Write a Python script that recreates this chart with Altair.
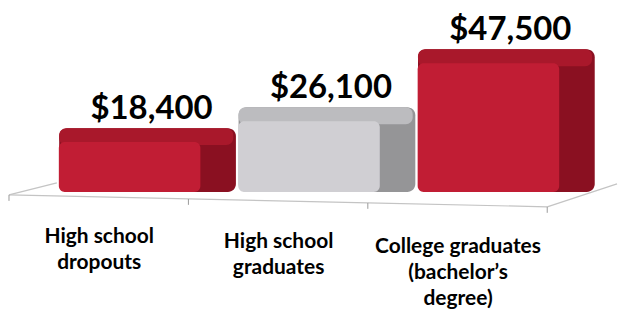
import altair as alt
import pandas as pd

# ---- data ----
categories = [
    "High school|dropouts",
    "High school|graduates",
    "College graduates|(bachelor’s|degree)",
]
earnings = [18400, 26100, 47500]

df = pd.DataFrame({"category": categories, "earnings": earnings})

# ---- layout (pixels -> scale units) ----
W, H = 610, 293
STEP = 180.0                  # px per category slot
X0 = 50.0                     # px from plot left to first slot
BASE = 184.0                  # px from plot top to $0
TOPV = 55.0                   # px from plot top to max value
K = (BASE - TOPV) / max(earnings)   # px per dollar


def ux(px):
    return px / STEP


def uy(px):
    return px / K


x_dom = [-X0 / STEP, (W - X0) / STEP]
y_dom = [-(H - BASE) / K, BASE / K]

RED_FRONT, GRAY_FRONT = "#c11d34", "#d0cfd3"
RED_SIDE, GRAY_SIDE = "#8a1021", "#959597"
RED_TOP, GRAY_TOP = "#a9182b", "#bcbcbf"
gray_test = alt.datum.category == categories[1]

xs = alt.Scale(domain=x_dom, nice=False, zero=False)
ys = alt.Scale(domain=y_dom, nice=False, zero=False)

base = (
    alt.Chart(df)
    .transform_window(idx="row_number()")
    .transform_calculate(i0="datum.idx - 1")
)


def X(f):
    return alt.X(f"{f}:Q", scale=xs, axis=None)


def Y(f):
    return alt.Y(f"{f}:Q", scale=ys, axis=None)


side = base.transform_calculate(
    xa=f"datum.i0 + {ux(1.35)}", xb=f"datum.i0 + {ux(178.65)}",
    ya=f"datum.earnings + {uy(14)}", yb="0",
).mark_bar(cornerRadius=8).encode(
    x=X("xa"), x2="xb", y=Y("ya"), y2="yb",
    color=alt.condition(gray_test, alt.value(GRAY_SIDE), alt.value(RED_SIDE)),
)

top = base.transform_calculate(
    xa=f"datum.i0 + {ux(1.35)}", xb=f"datum.i0 + {ux(176)}",
    ya=f"datum.earnings + {uy(14)}", yb=f"datum.earnings - {uy(3)}",
).mark_bar(cornerRadius=7).encode(
    x=X("xa"), x2="xb", y=Y("ya"), y2="yb",
    color=alt.condition(gray_test, alt.value(GRAY_TOP), alt.value(RED_TOP)),
)

front = base.transform_calculate(
    xa=f"datum.i0 + {ux(1)}", xb=f"datum.i0 + {ux(143)}",
    ya="datum.earnings", yb="0",
).mark_bar(cornerRadius=6).encode(
    x=X("xa"), x2="xb", y=Y("ya"), y2="yb",
    color=alt.condition(gray_test, alt.value(GRAY_FRONT), alt.value(RED_FRONT)),
)

floor_front = base.transform_calculate(
    xa=f"datum.i0 - {ux(49)}", xb=f"datum.i0 + {ux(131)}",
    ya=f"-({uy(3)} + datum.i0 * {uy(4)})", yb=f"-({uy(7)} + datum.i0 * {uy(4)})",
).mark_rule(color="#c4c4c4", strokeWidth=1.2).encode(
    x=X("xa"), x2="xb", y=Y("ya"), y2="yb"
)

ticks = base.transform_calculate(
    xa=f"datum.i0 - {ux(49)}",
    ya=f"-({uy(3)} + datum.i0 * {uy(4)})", yb=f"-({uy(9)} + datum.i0 * {uy(4)})",
).mark_rule(color="#9a9a9a").encode(x=X("xa"), y=Y("ya"), y2="yb")

last = base.transform_filter(alt.datum.idx == len(categories))
end_tick = last.transform_calculate(
    xa=f"datum.i0 + {ux(131)}",
    ya=f"-{uy(15)}", yb=f"-{uy(21)}",
).mark_rule(color="#9a9a9a").encode(x=X("xa"), y=Y("ya"), y2="yb")

right_edge = last.transform_calculate(
    xa=f"datum.i0 + {ux(131)}", xb=f"datum.i0 + {ux(201)}",
    ya=f"-{uy(15)}", yb=f"{uy(8)}",
).mark_rule(color="#c4c4c4", strokeWidth=1.2).encode(
    x=X("xa"), x2="xb", y=Y("ya"), y2="yb"
)

first = base.transform_filter(alt.datum.idx == 1)
left_edge = first.transform_calculate(
    xa=f"-{ux(49)}", xb=f"-{ux(1)}",
    ya=f"-{uy(3)}", yb=f"{uy(9)}",
).mark_rule(color="#c4c4c4", strokeWidth=1.2).encode(
    x=X("xa"), x2="xb", y=Y("ya"), y2="yb"
)

values = base.transform_calculate(
    xa=f"datum.i0 + {ux(94)}",
).mark_text(
    font="Lato", fontSize=33, fontWeight="bold", color="#000000",
    dy=-23, baseline="alphabetic", align="center",
).encode(x=X("xa"), y=Y("earnings"), text=alt.Text("earnings:Q", format="$,.0f"))

cat_labels = base.transform_calculate(
    xa=f"datum.i0 + {ux(41.5)}",
    ya=f"-({uy(51)} + datum.i0 * {uy(5)})",
).mark_text(
    font="Lato", fontSize=21, fontWeight="bold", color="#000000",
    baseline="alphabetic", align="center", lineBreak="|", lineHeight=26,
).encode(x=X("xa"), y=Y("ya"), text="category:N")

chart = (
    alt.layer(floor_front, left_edge, right_edge, ticks, end_tick,
              side, top, front, values, cat_labels)
    .properties(width=W, height=H, padding=0)
    .configure_view(strokeWidth=0)
)

chart.save("out.html", embed_options={"renderer": "svg", "actions": False})
